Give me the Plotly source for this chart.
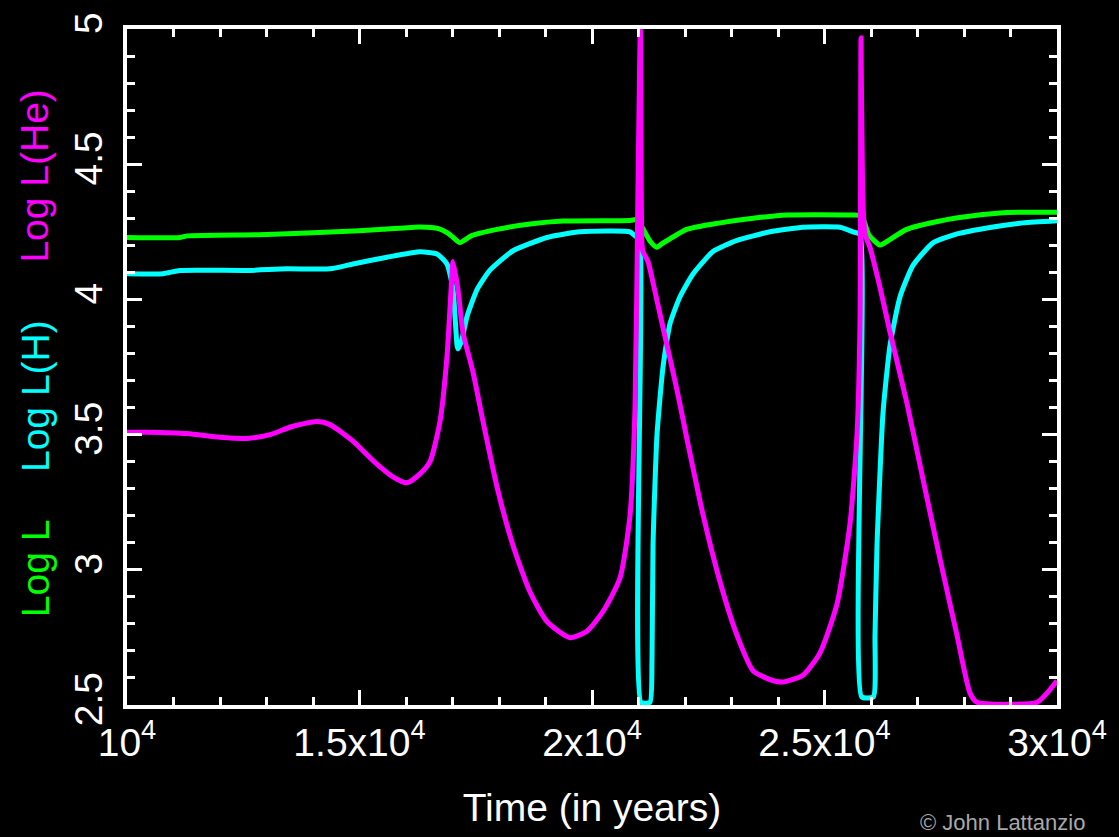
import plotly.graph_objects as go

# ---- data (time in years, log luminosities) ----
t_L = [10000, 11140, 11300, 13000, 14500, 15500, 16300, 16700, 16900, 17011, 17161, 17400,
       17957, 18667, 19376, 20817, 20968, 21100, 21250, 21391, 21500, 22036, 22753, 23462,
       24193, 25613, 25763, 25850, 25950, 26194, 26350, 26768, 27484, 28194, 28925, 30000]
logL = [4.229, 4.229, 4.235, 4.240, 4.250, 4.259, 4.268, 4.262, 4.245, 4.230, 4.210, 4.235,
        4.259, 4.279, 4.290, 4.292, 4.295, 4.260, 4.215, 4.193, 4.205, 4.259, 4.283, 4.300,
        4.312, 4.312, 4.310, 4.290, 4.240, 4.201, 4.215, 4.259, 4.290, 4.309, 4.321, 4.322]

t_H = [10000, 10774, 11140, 12581, 13441, 14366, 14860, 15591, 16301, 16667, 16882, 17011,
       17097, 17118, 17200, 17312, 17527, 17806, 18301, 19032, 19742, 20817, 20968, 21032,
       21054, 21247, 21290, 21312, 21398, 21527, 21677, 21892, 22172, 22602, 23118, 23828,
       24537, 25333, 25613, 25763, 25800, 26050, 26086, 26129, 26258, 26409, 26624, 26903,
       27333, 27849, 28559, 29269, 30000]
logLH = [4.095, 4.095, 4.107, 4.107, 4.113, 4.113, 4.131, 4.156, 4.176, 4.168, 4.131, 4.036,
         3.830, 3.817, 3.850, 3.937, 4.036, 4.108, 4.180, 4.229, 4.250, 4.250, 4.229, 4.220,
         2.510, 2.510, 2.662, 3.090, 3.500, 3.750, 3.910, 4.010, 4.094, 4.177, 4.218, 4.250,
         4.267, 4.267, 4.250, 4.240, 2.530, 2.530, 2.758, 3.090, 3.580, 3.830, 4.010, 4.126,
         4.209, 4.242, 4.266, 4.283, 4.291]

t_He = [10000, 10430, 11290, 12000, 12581, 13075, 13570, 14086, 14366, 14860, 15290, 15720,
        16021, 16301, 16516, 16731, 16882, 16989, 17011, 17118, 17226, 17441, 17656, 17957,
        18301, 18667, 19032, 19527, 19892, 20237, 20602, 20817, 20925, 20989, 21040, 21075,
        21097, 21204, 21398, 21613, 21828, 22043, 22387, 22753, 23118, 23462, 23828, 24107,
        24537, 24903, 25269, 25548, 25699, 25763, 25785, 25820, 25871, 25978, 26194, 26409,
        26774, 27118, 27484, 27849, 28129, 28280, 29570, 29785, 30000]
logLHe = [3.509, 3.509, 3.504, 3.490, 3.486, 3.500, 3.531, 3.548, 3.537, 3.476, 3.404, 3.344,
          3.322, 3.355, 3.400, 3.549, 3.790, 4.095, 4.140, 4.036, 3.877, 3.731, 3.549, 3.307,
          3.090, 2.918, 2.809, 2.749, 2.773, 2.846, 2.970, 3.200, 3.600, 4.410, 5.000, 4.200,
          4.176, 4.140, 3.995, 3.830, 3.665, 3.483, 3.204, 2.956, 2.758, 2.627, 2.594, 2.585,
          2.610, 2.693, 2.874, 3.170, 3.500, 3.912, 4.967, 4.400, 4.243, 4.192, 4.044, 3.879,
          3.615, 3.335, 3.040, 2.758, 2.544, 2.510, 2.510, 2.544, 2.590]

x_tickvals = [10000, 15000, 20000, 25000, 30000]
x_ticktext = ["10<sup>4</sup>", "1.5x10<sup>4</sup>", "2x10<sup>4</sup>",
              "2.5x10<sup>4</sup>", "3x10<sup>4</sup>"]
y_tickvals = [2.5, 3, 3.5, 4, 4.5, 5]
y_ticktext = ["2.5", "3", "3.5", "4", "4.5", "5"]

GREEN, CYAN, MAGENTA = "#00ff00", "#00ffff", "#ff00ff"
FONT = "Liberation Sans, Arial, sans-serif"

fig = go.Figure()
fig.add_trace(go.Scatter(x=t_L, y=logL, mode="lines",
                         line=dict(color=GREEN, width=5, shape="spline", smoothing=0.6),
                         name="Log L"))
fig.add_trace(go.Scatter(x=t_H, y=logLH, mode="lines",
                         line=dict(color=CYAN, width=5, shape="spline", smoothing=0.5),
                         name="Log L(H)"))
fig.add_trace(go.Scatter(x=t_He, y=logLHe, mode="lines",
                         line=dict(color=MAGENTA, width=5, shape="spline", smoothing=0.6),
                         name="Log L(He)"))

W, H = 1119, 837
L, R, T, B = 127, 62, 18, 132
pw, ph = W - L - R, H - T - B

def px(x):
    return (x - L) / pw

def py(y):
    return (H - B - y) / ph

axis_common = dict(
    showgrid=False, zeroline=False, showline=True, linecolor="white", linewidth=4,
    mirror="ticks", ticks="inside", tickcolor="white", tickwidth=3, ticklen=15,
    tickfont=dict(family=FONT, size=39, color="white"),
)

fig.update_layout(
    width=W, height=H,
    paper_bgcolor="black", plot_bgcolor="black",
    margin=dict(l=L, r=R, t=T, b=B, pad=0),
    showlegend=False,
    xaxis=dict(range=[10000, 30000], tickmode="array", tickvals=x_tickvals,
               ticktext=x_ticktext,
               minor=dict(ticks="inside", dtick=1000, tick0=10000, ticklen=8,
                          tickwidth=3, tickcolor="white"),
               title=dict(text="Time (in years)", font=dict(family=FONT, size=39, color="white"),
                          standoff=32),
               **axis_common),
    yaxis=dict(range=[2.5, 5], tickmode="array", tickvals=y_tickvals, ticktext=y_ticktext,
               tickangle=-90, ticklabelstandoff=5,
               minor=dict(ticks="inside", dtick=0.1, tick0=2.5, ticklen=8,
                          tickwidth=3, tickcolor="white"),
               **axis_common),
    annotations=[
        dict(text="Log L", x=px(35), y=py(566), xref="paper", yref="paper",
             textangle=-90, showarrow=False, xanchor="center", yanchor="middle",
             font=dict(family=FONT, size=39, color=GREEN)),
        dict(text="Log L(H)", x=px(35), y=py(391), xref="paper", yref="paper",
             textangle=-90, showarrow=False, xanchor="center", yanchor="middle",
             font=dict(family=FONT, size=39, color=CYAN)),
        dict(text="Log L(He)", x=px(35), y=py(168), xref="paper", yref="paper",
             textangle=-90, showarrow=False, xanchor="center", yanchor="middle",
             font=dict(family=FONT, size=39, color=MAGENTA)),
        dict(text="© John Lattanzio", x=px(918), y=py(824), xref="paper", yref="paper",
             showarrow=False, xanchor="left", yanchor="middle",
             font=dict(family=FONT, size=22, color="#a8a8a8")),
    ],
)

fig.write_html("out.html")
